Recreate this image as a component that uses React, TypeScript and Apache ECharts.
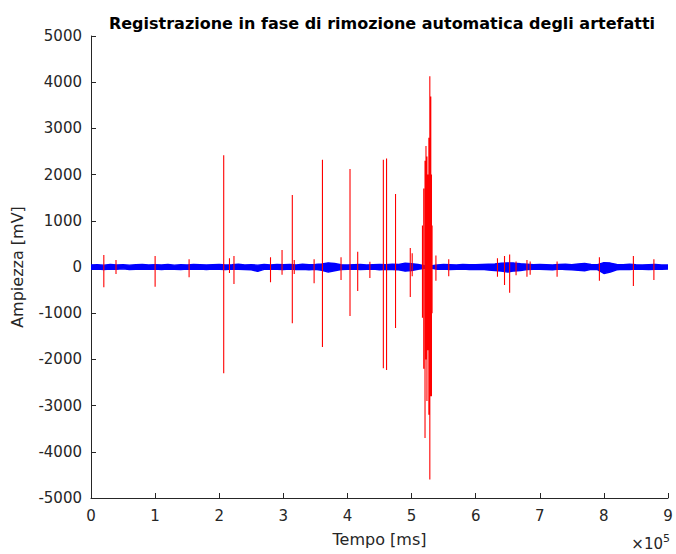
import React, { useEffect, useRef } from "react";
import * as echarts from "echarts";

// Cleaned signal (blue): upper and lower envelope per 10000 ms bin, 0..900000 ms, in mV
const blueStep = 10000;
const blueUpper: number[] = [
  45, 50, 40, 55, 45, 50, 40, 50, 55, 45,
  50, 45, 55, 40, 50, 45, 55, 50, 45, 50,
  55, 45, 50, 60, 45, 50, 40, 55, 45, 55,
  50, 55, 45, 60, 50, 55, 65, 90, 75, 50,
  45, 50, 55, 45, 50, 55, 50, 60, 55, 80,
  70, 55, 30, 25, 45, 55, 50, 45, 55, 50,
  50, 55, 60, 65, 80, 90, 85, 70, 60, 50,
  55, 50, 45, 55, 60, 50, 65, 75, 55, 50,
  95, 85, 55, 50, 60, 50, 45, 50, 55, 45,
  45,
];
const blueLower: number[] = [
  -50, -45, -55, -45, -50, -40, -55, -50, -45, -50,
  -45, -55, -45, -50, -55, -45, -50, -45, -55, -45,
  -50, -55, -45, -50, -55, -60, -95, -50, -45, -50,
  -55, -45, -55, -50, -60, -50, -70, -110, -80, -55,
  -50, -45, -55, -50, -45, -60, -50, -55, -60, -90,
  -75, -50, -30, -25, -50, -45, -55, -50, -45, -55,
  -55, -50, -65, -75, -90, -110, -85, -75, -55, -50,
  -50, -55, -60, -45, -55, -60, -70, -80, -50, -55,
  -140, -110, -60, -50, -55, -45, -50, -55, -50, -50,
  -45,
];

// Artifact spikes (red): time [ms], positive peak [mV], negative peak [mV]
const spikeTimes: number[] = [
  20000, 39000, 100000, 153000, 207000, 216000, 223000, 280000, 298000, 314000, 317000,
  348000, 361000, 390000, 404000, 416000, 435000, 456000, 461000, 475000, 498000, 501000,
  517000, 519000, 521000, 522500, 524000, 525500, 527000, 528500, 530000, 531000, 532000,
  538000, 558000, 634000, 645000, 653000, 663000, 680000, 685000, 727000, 793000, 846000, 878000,
];
const spikeHigh: number[] = [
  260, 150, 240, 170, 2420, 190, 240, 210, 370, 1560, 150,
  170, 2320, 210, 2120, 330, 115, 2320, 2350, 1580, 410, 300,
  900, 1700, 2300, 2620, 2390, 2000, 2800, 4130, 3690, 2000, 900,
  250, 170, 190, 240, 270, 120, 150, 120, 120, 210, 240, 170,
];
const spikeLow: number[] = [
  -440, -150, -430, -220, -2300, -130, -370, -330, -170, -1220, -150,
  -350, -1730, -280, -1060, -520, -240, -2190, -2230, -1320, -650, -200,
  -1100, -2200, -3700, -2000, -2900, -1800, -3200, -4600, -2800, -2800, -1000,
  -300, -200, -210, -390, -560, -180, -210, -170, -210, -300, -410, -280,
];

const xTicks = [0, 1, 2, 3, 4, 5, 6, 7, 8, 9];
const xScale = 100000;

const FONT = "'DejaVu Sans', 'Liberation Sans', Arial, sans-serif";
const AX = "#262626";
const BLUE = "#0000ff";

export default function App() {
  const ref = useRef<HTMLDivElement>(null);

  useEffect(() => {
    if (!ref.current) return;
    const chart = echarts.init(ref.current, undefined, { renderer: "svg" });

    const upperData = blueUpper.map((v, i) => [i * blueStep, v]);
    const lowerData = blueLower.map((v, i) => [i * blueStep, v]);
    const redData: any[] = [];
    spikeTimes.forEach((t, i) => {
      redData.push([t, spikeHigh[i]]);
      redData.push([t, spikeLow[i]]);
      redData.push([t, "-"]);
    });

    const bandSeries = (data: number[][]) => ({
      type: "line",
      data,
      showSymbol: false,
      symbol: "none",
      lineStyle: { color: BLUE, width: 1.4 },
      areaStyle: { color: BLUE, opacity: 1, origin: 0 },
      z: 2,
    });

    chart.setOption({
      animation: false,
      backgroundColor: "#ffffff",
      title: {
        text: "Registrazione in fase di rimozione automatica degli artefatti",
        left: 377,
        top: 10,
        textAlign: "center",
        textStyle: { fontFamily: FONT, fontSize: 16, fontWeight: "bold", color: "#000" },
      },
      grid: { left: 91, right: 8, top: 36, bottom: 56, containLabel: false },
      xAxis: {
        type: "value",
        min: 0,
        max: 900000,
        interval: xScale,
        name: "Tempo [ms]",
        nameLocation: "middle",
        nameGap: 33,
        nameTextStyle: { fontFamily: FONT, fontSize: 16, color: AX },
        axisLine: { onZero: false, lineStyle: { color: AX, width: 1 } },
        axisTick: { inside: true, length: 5, lineStyle: { color: AX } },
        axisLabel: {
          fontFamily: FONT,
          fontSize: 15,
          color: AX,
          margin: 10,
          formatter: (v: number) => String(xTicks[Math.round(v / xScale)] ?? v / xScale),
        },
        splitLine: { show: false },
      },
      yAxis: {
        type: "value",
        min: -5000,
        max: 5000,
        interval: 1000,
        name: "Ampiezza [mV]",
        nameLocation: "middle",
        nameGap: 66,
        nameTextStyle: { fontFamily: FONT, fontSize: 16, color: AX },
        axisLine: { show: true, onZero: false, lineStyle: { color: AX, width: 1 } },
        axisTick: { show: true, inside: true, length: 5, lineStyle: { color: AX } },
        axisLabel: { fontFamily: FONT, fontSize: 15, color: AX, margin: 9, formatter: (v: number) => String(v) },
        splitLine: { show: false },
      },
      graphic: [
        {
          type: "text",
          right: 6,
          top: 533,
          style: {
            text: "{a|×10}{b|5}",
            rich: {
              a: { fontFamily: FONT, fontSize: 15, fill: AX, verticalAlign: "bottom", lineHeight: 18 },
              b: { fontFamily: FONT, fontSize: 11, fill: AX, verticalAlign: "top", padding: [0, 0, 10, 0], lineHeight: 18 },
            },
          },
        },
      ],
      series: [
        bandSeries(upperData),
        bandSeries(lowerData),
        {
          type: "line",
          data: redData,
          showSymbol: false,
          symbol: "none",
          connectNulls: false,
          lineStyle: { color: "#ff0000", width: 1.1 },
          z: 3,
        },
      ],
    });

    return () => chart.dispose();
  }, []);

  return <div ref={ref} style={{ position: "fixed", left: 0, top: 0, width: 676, height: 554 }} />;
}
